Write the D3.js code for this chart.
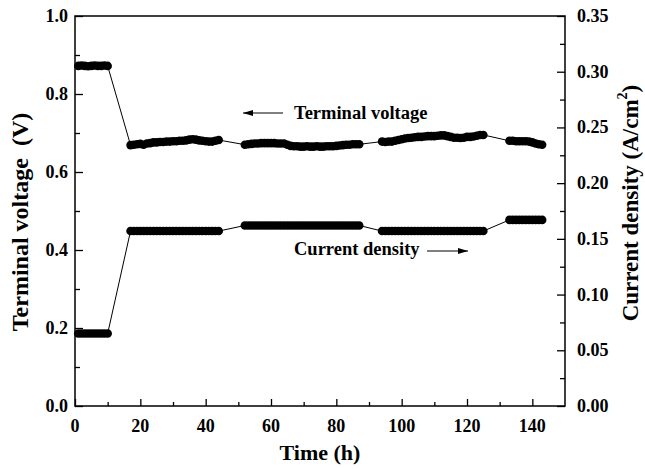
<!DOCTYPE html>
<html>
<head>
<meta charset="utf-8">
<script src="https://cdn.jsdelivr.net/npm/d3@7"></script>
<style>
  body { margin: 0; background: #fff; }
  text { font-family: "Liberation Serif", "Times New Roman", serif; font-weight: bold; fill: #000; }
</style>
</head>
<body>
<script>
// Time (h) of each recorded point
const hours = [
  1, 2, 3, 4, 5, 6, 7, 8, 9, 10,
  17, 18, 19, 20, 21, 22, 23, 24, 25, 26, 27, 28, 29, 30, 31, 32, 33, 34, 35, 36, 37, 38, 39, 40, 41, 42, 43, 44,
  52, 53, 54, 55, 56, 57, 58, 59, 60, 61, 62, 63, 64, 65, 66, 67, 68, 69, 70, 71, 72, 73, 74, 75, 76, 77, 78, 79, 80, 81, 82, 83, 84, 85, 86, 87,
  94, 95, 96, 97, 98, 99, 100, 101, 102, 103, 104, 105, 106, 107, 108, 109, 110, 111, 112, 113, 114, 115, 116, 117, 118, 119, 120, 121, 122, 123, 124, 125,
  133, 134, 135, 136, 137, 138, 139, 140, 141, 142, 143
];

// Terminal voltage (V)
const voltage = [
  0.872, 0.873, 0.872, 0.871, 0.872, 0.873, 0.872, 0.872, 0.873, 0.872,
  0.669, 0.670, 0.671, 0.672, 0.670, 0.673, 0.674, 0.676, 0.676, 0.677, 0.677, 0.678, 0.678, 0.679, 0.679, 0.680, 0.680, 0.681, 0.683, 0.684, 0.683, 0.681, 0.680, 0.679, 0.678, 0.678, 0.680, 0.682,
  0.670, 0.671, 0.672, 0.673, 0.673, 0.674, 0.674, 0.674, 0.674, 0.674, 0.673, 0.673, 0.673, 0.670, 0.667, 0.666, 0.666, 0.665, 0.665, 0.666, 0.665, 0.665, 0.666, 0.665, 0.665, 0.666, 0.666, 0.666, 0.667, 0.668, 0.669, 0.670, 0.670, 0.671, 0.671, 0.671,
  0.678, 0.677, 0.678, 0.678, 0.680, 0.682, 0.684, 0.686, 0.687, 0.688, 0.689, 0.690, 0.690, 0.691, 0.692, 0.692, 0.692, 0.693, 0.694, 0.694, 0.692, 0.690, 0.688, 0.688, 0.687, 0.688, 0.690, 0.690, 0.691, 0.693, 0.695, 0.695,
  0.680, 0.680, 0.679, 0.679, 0.679, 0.679, 0.678, 0.676, 0.673, 0.671, 0.670
];

// Current density (A/cm2)
const current = [
  0.065, 0.065, 0.065, 0.065, 0.065, 0.065, 0.065, 0.065, 0.065, 0.065,
  0.157, 0.157, 0.157, 0.157, 0.157, 0.157, 0.157, 0.157, 0.157, 0.157, 0.157, 0.157, 0.157, 0.157, 0.157, 0.157, 0.157, 0.157, 0.157, 0.157, 0.157, 0.157, 0.157, 0.157, 0.157, 0.157, 0.157, 0.157,
  0.162, 0.162, 0.162, 0.162, 0.162, 0.162, 0.162, 0.162, 0.162, 0.162, 0.162, 0.162, 0.162, 0.162, 0.162, 0.162, 0.162, 0.162, 0.162, 0.162, 0.162, 0.162, 0.162, 0.162, 0.162, 0.162, 0.162, 0.162, 0.162, 0.162, 0.162, 0.162, 0.162, 0.162, 0.162, 0.162,
  0.157, 0.157, 0.157, 0.157, 0.157, 0.157, 0.157, 0.157, 0.157, 0.157, 0.157, 0.157, 0.157, 0.157, 0.157, 0.157, 0.157, 0.157, 0.157, 0.157, 0.157, 0.157, 0.157, 0.157, 0.157, 0.157, 0.157, 0.157, 0.157, 0.157, 0.157, 0.157,
  0.167, 0.167, 0.167, 0.167, 0.167, 0.167, 0.167, 0.167, 0.167, 0.167, 0.167
];

const xTicks = [0, 20, 40, 60, 80, 100, 120, 140];
const yLeftTicks = [0, 0.2, 0.4, 0.6, 0.8, 1.0];
const yRightTicks = [0, 0.05, 0.10, 0.15, 0.20, 0.25, 0.30, 0.35];

const width = 645, height = 469;
const plotL = 75, plotR = 565, plotT = 16, plotB = 406;

const svg = d3.select("body").append("svg")
    .attr("width", width)
    .attr("height", height);

svg.append("rect").attr("width", width).attr("height", height).attr("fill", "#fff");

const x = d3.scaleLinear().domain([0, 150]).range([plotL, plotR]);
const yV = d3.scaleLinear().domain([0, 1]).range([plotB, plotT]);
const yC = d3.scaleLinear().domain([0, 0.35]).range([plotB, plotT]);

// --- axes, ticks pointing inward ---
const bottomAxis = d3.axisTop(x).tickValues(xTicks).tickSize(7).tickFormat("");
const bottomMinor = d3.axisTop(x).tickValues([10, 30, 50, 70, 90, 110, 130]).tickSize(4).tickFormat("");
const leftAxis = d3.axisRight(yV).tickValues(yLeftTicks).tickSize(8).tickFormat("");
const leftMinor = d3.axisRight(yV).tickValues([0.1, 0.3, 0.5, 0.7, 0.9]).tickSize(5).tickFormat("");
const rightAxis = d3.axisLeft(yC).tickValues(yRightTicks).tickSize(8).tickFormat("");
const rightMinor = d3.axisLeft(yC).tickValues([0.025, 0.075, 0.125, 0.175, 0.225, 0.275, 0.325]).tickSize(5).tickFormat("");

const axes = svg.append("g").attr("class", "axes");
axes.append("g").attr("transform", `translate(0,${plotB})`).call(bottomAxis);
axes.append("g").attr("transform", `translate(0,${plotB})`).call(bottomMinor);
axes.append("g").attr("transform", `translate(${plotL},0)`).call(leftAxis);
axes.append("g").attr("transform", `translate(${plotL},0)`).call(leftMinor);
axes.append("g").attr("transform", `translate(${plotR},0)`).call(rightAxis);
axes.append("g").attr("transform", `translate(${plotR},0)`).call(rightMinor);
axes.selectAll(".domain").remove();
axes.selectAll(".tick line").attr("stroke", "#000").attr("stroke-width", 1.3);

// frame
svg.append("rect")
    .attr("x", plotL).attr("y", plotT)
    .attr("width", plotR - plotL).attr("height", plotB - plotT)
    .attr("fill", "none").attr("stroke", "#000").attr("stroke-width", 1.5);

// tick labels
svg.append("g").selectAll("text").data(xTicks).join("text")
    .attr("x", d => x(d)).attr("y", 432)
    .attr("text-anchor", "middle").attr("font-size", 18)
    .text(d => d);

svg.append("g").selectAll("text").data(yLeftTicks).join("text")
    .attr("x", 68).attr("y", d => yV(d) + 6)
    .attr("text-anchor", "end").attr("font-size", 18)
    .text(d => d3.format(".1f")(d));

svg.append("g").selectAll("text").data(yRightTicks).join("text")
    .attr("x", 577).attr("y", d => yC(d) + 6)
    .attr("text-anchor", "start").attr("font-size", 18)
    .text(d => d3.format(".2f")(d));

// axis titles
svg.append("text")
    .attr("x", (plotL + plotR) / 2).attr("y", 460)
    .attr("text-anchor", "middle").attr("font-size", 22)
    .text("Time (h)");

svg.append("text")
    .attr("transform", `translate(28,222) rotate(-90)`)
    .attr("text-anchor", "middle").attr("font-size", 24)
    .attr("xml:space", "preserve")
    .text("Terminal voltage  (V)");

const rTitle = svg.append("text")
    .attr("transform", `translate(638,203) rotate(-90)`)
    .attr("text-anchor", "middle").attr("font-size", 23);
rTitle.append("tspan").text("Current density (A/cm");
rTitle.append("tspan").attr("dy", -11).attr("font-size", 14).text("2");
rTitle.append("tspan").attr("dy", 11).text(")");

// --- data ---
const pts = hours.map((h, i) => ({ h, v: voltage[i], c: current[i] }));

const plot = svg.append("g");
plot.append("path")
    .datum(pts)
    .attr("fill", "none").attr("stroke", "#000").attr("stroke-width", 1)
    .attr("d", d3.line().x(d => x(d.h)).y(d => yV(d.v)));
plot.append("path")
    .datum(pts)
    .attr("fill", "none").attr("stroke", "#000").attr("stroke-width", 1)
    .attr("d", d3.line().x(d => x(d.h)).y(d => yC(d.c)));

plot.append("g").selectAll("circle").data(pts).join("circle")
    .attr("cx", d => x(d.h)).attr("cy", d => yV(d.v)).attr("r", 4.3).attr("fill", "#000");
plot.append("g").selectAll("circle").data(pts).join("circle")
    .attr("cx", d => x(d.h)).attr("cy", d => yC(d.c)).attr("r", 4.3).attr("fill", "#000");

// --- annotations ---
const defs = svg.append("defs");
defs.append("marker")
    .attr("id", "head").attr("viewBox", "0 0 10 6")
    .attr("refX", 10).attr("refY", 3)
    .attr("markerWidth", 10).attr("markerHeight", 6)
    .attr("markerUnits", "userSpaceOnUse").attr("orient", "auto")
    .append("path").attr("d", "M0,0 L10,3 L0,6 Z").attr("fill", "#000");

svg.append("line")
    .attr("x1", 283).attr("y1", 113).attr("x2", 243).attr("y2", 113)
    .attr("stroke", "#000").attr("stroke-width", 1.2).attr("marker-end", "url(#head)");
svg.append("text")
    .attr("x", 294).attr("y", 119).attr("font-size", 18.5)
    .text("Terminal voltage");

svg.append("text")
    .attr("x", 294).attr("y", 255).attr("font-size", 18.5)
    .text("Current density");
svg.append("line")
    .attr("x1", 427).attr("y1", 251).attr("x2", 468).attr("y2", 251)
    .attr("stroke", "#000").attr("stroke-width", 1.2).attr("marker-end", "url(#head)");
</script>
</body>
</html>
